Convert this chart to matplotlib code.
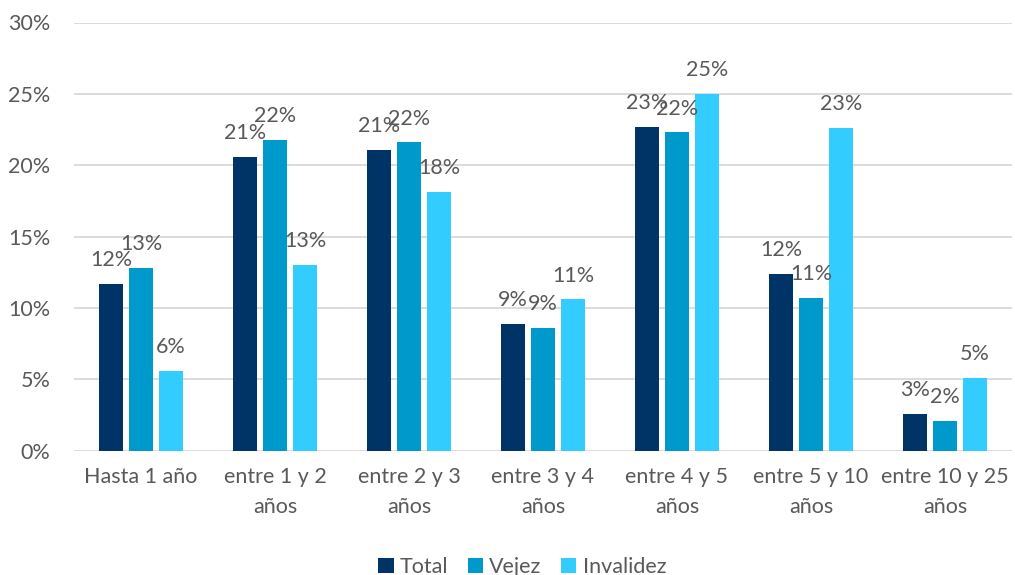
import matplotlib
matplotlib.use("Agg")
import matplotlib.pyplot as plt
import numpy as np
from matplotlib.ticker import FuncFormatter, MultipleLocator

plt.rcParams['font.family'] = ['Lato', 'DejaVu Sans']

categories = ["Hasta 1 año", "entre 1 y 2\naños", "entre 2 y 3\naños", "entre 3 y 4\naños",
              "entre 4 y 5\naños", "entre 5 y 10\naños", "entre 10 y 25\naños"]
series_names = ["Total", "Vejez", "Invalidez"]
total = [11.7, 20.6, 21.1, 8.9, 22.7, 12.4, 2.6]
vejez = [12.8, 21.8, 21.6, 8.6, 22.3, 10.7, 2.1]
invalidez = [5.6, 13.0, 18.1, 10.6, 25.0, 22.6, 5.1]
colors = ["#003366", "#0099CC", "#33CCFF"]
text_color = "#595959"
fs = 15.5

fig = plt.figure(figsize=(10.15, 5.75), dpi=100)
ax = fig.add_axes([74 / 1015, 1 - 450.7 / 575, 938 / 1015, (450.7 - 22.5) / 575])

x = np.arange(len(categories))
step = 0.224
width = 0.175
for i, (name, vals, col) in enumerate(zip(series_names, [total, vejez, invalidez], colors)):
    pos = x + (i - 1) * step
    ax.bar(pos, vals, width=width, color=col, label=name, zorder=3)
    for px, v in zip(pos, vals):
        ax.annotate(f"{int(v + 0.5)}%", (px, v), xytext=(0, 10),
                    textcoords="offset points", ha="center", va="bottom",
                    fontsize=fs, color=text_color, zorder=4)

ax.set_xlim(-0.5, len(categories) - 0.5)
ax.set_ylim(0, 30)
ax.yaxis.set_major_locator(MultipleLocator(5))
ax.yaxis.set_major_formatter(FuncFormatter(lambda v, _: f"{v:.0f}%"))
ax.grid(axis="y", color="#D9D9D9", linewidth=1.3, zorder=0)
for s in ax.spines.values():
    s.set_visible(False)
ax.tick_params(axis="both", length=0, colors=text_color, labelsize=fs)
ax.tick_params(axis="y", pad=17)
ax.tick_params(axis="x", pad=12)
ax.set_xticks(x)
ax.set_xticklabels(categories, linespacing=1.6)

leg = ax.legend(loc="center", bbox_to_anchor=(0.478, -0.272), ncol=3, frameon=False,
                fontsize=fs, handlelength=0.7, handleheight=0.7, handletextpad=0.3,
                columnspacing=0.9)
for t in leg.get_texts():
    t.set_color(text_color)

fig.savefig("out.png", dpi=100)
